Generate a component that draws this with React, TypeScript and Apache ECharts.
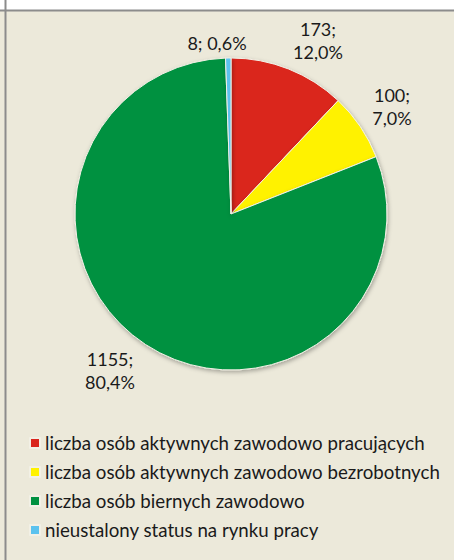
import React, { useEffect, useRef } from "react";
import * as echarts from "echarts";

const categories = [
  "liczba osób aktywnych zawodowo pracujących",
  "liczba osób aktywnych zawodowo bezrobotnych",
  "liczba osób biernych zawodowo",
  "nieustalony status na rynku pracy",
];
const values = [173, 100, 1155, 8];
const colors = ["#DA251D", "#FFF200", "#009140", "#5BC2EE"];
const multiLine = [true, true, true, false];

// label anchor positions (center of label block)
const labelPos: [number, number][] = [
  [318, 40],
  [392, 106],
  [110, 370],
  [217, 43],
];

const total = values.reduce((a, b) => a + b, 0);

export default function App() {
  const ref = useRef<HTMLDivElement>(null);
  useEffect(() => {
    document.body.style.margin = "0";
    const chart = echarts.init(ref.current!, null, { renderer: "svg" });
    chart.setOption({
      animation: false,
      backgroundColor: "#ECE9DA",
      graphic: [
        { type: "rect", shape: { x: 0, y: 0, width: 454, height: 10 }, style: { fill: "#FFFFFF" }, z: 0 },
        { type: "line", shape: { x1: 0, y1: 10.5, x2: 454, y2: 10.5 }, style: { stroke: "#8C8C8C", lineWidth: 2 }, z: 1 },
        { type: "line", shape: { x1: 5.5, y1: 0, x2: 5.5, y2: 560 }, style: { stroke: "#8C8C8C", lineWidth: 2 }, z: 1 },
      ],
      legend: {
        orient: "vertical",
        left: 29,
        top: 433,
        padding: 0,
        itemWidth: 10,
        itemHeight: 10,
        itemGap: 9,
        icon: "rect",
        textStyle: { fontFamily: "Lato", fontSize: 18.7, color: "#1A1A1A", lineHeight: 20 },
        data: categories,
      },
      series: [
        {
          type: "pie",
          center: [231, 214],
          radius: 156,
          startAngle: 90,
          clockwise: true,
          color: colors,
          itemStyle: {
            borderColor: "#F2F0E6",
            borderWidth: 1,
            shadowBlur: 4,
            shadowOffsetX: 1,
            shadowOffsetY: 2,
            shadowColor: "rgba(0,0,0,0.3)",
          },
          label: {
            show: true,
            position: "outside",
            fontFamily: "Lato",
            fontSize: 18,
            lineHeight: 23,
            color: "#1A1A1A",
            align: "center",
            overflow: "none",
            formatter: (p: any) => {
              const pct = ((p.value / total) * 100).toFixed(1).replace(".", ",") + "%";
              return multiLine[p.dataIndex] ? `${p.value};\n${pct}` : `${p.value}; ${pct}`;
            },
          },
          labelLine: { show: false },
          labelLayout: (p: any) => ({
            x: labelPos[p.dataIndex][0],
            y: labelPos[p.dataIndex][1],
            align: "center",
            verticalAlign: "middle",
          }),
          emphasis: { disabled: true },
          data: categories.map((name, i) => ({ name, value: values[i] })),
        },
      ],
    });
    return () => chart.dispose();
  }, []);
  return <div ref={ref} style={{ width: 454, height: 560, position: "absolute", left: 0, top: 0 }} />;
}
